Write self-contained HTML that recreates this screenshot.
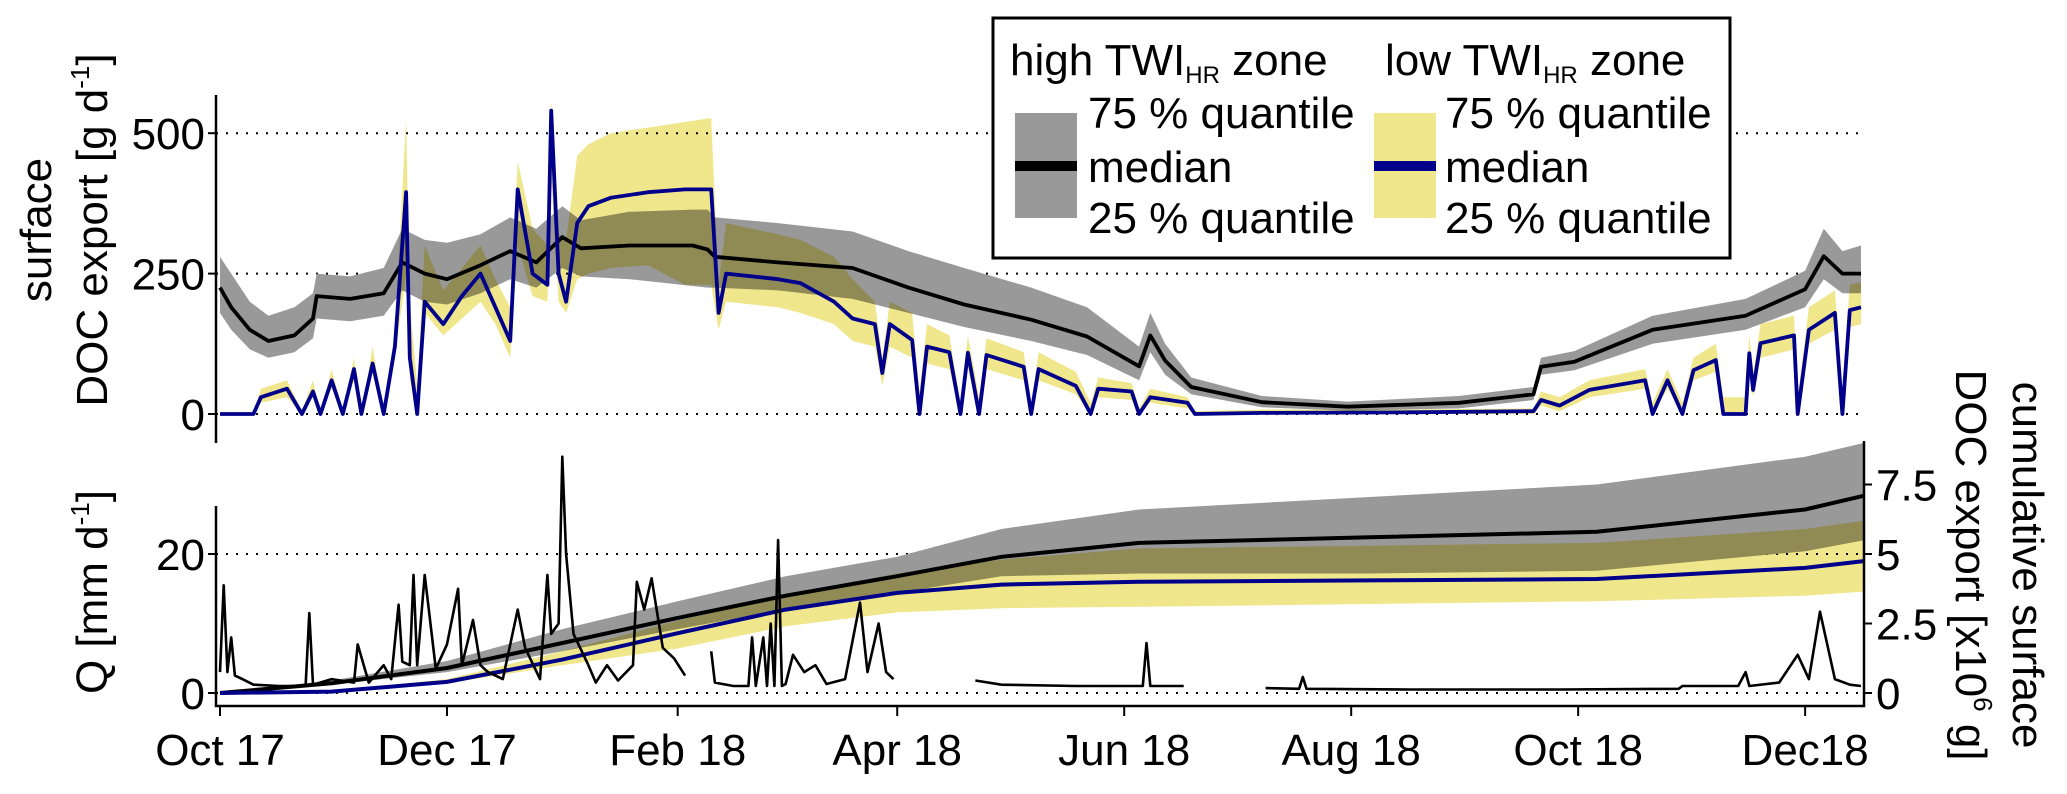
<!DOCTYPE html>
<html>
<head>
<meta charset="utf-8">
<style>
  html,body{margin:0;padding:0;background:#fff;}
  svg{display:block;}
  text{font-family:"Liberation Sans",Arial,sans-serif;fill:#000;}
</style>
</head>
<body>
<svg id="chart" width="2067" height="794" viewBox="0 0 2067 794" xmlns="http://www.w3.org/2000/svg">
  <g id="top-panel"></g>
  <g id="bottom-panel"></g>
  <g id="axes"></g>

  <!-- axis titles -->
  <text transform="translate(51,230) rotate(-90)" text-anchor="middle" font-size="44">surface</text>
  <text transform="translate(107,230) rotate(-90)" text-anchor="middle" font-size="44">DOC export [g d<tspan font-size="26" dy="-18">-1</tspan><tspan dy="18">]</tspan></text>
  <text transform="translate(107,592) rotate(-90)" text-anchor="middle" font-size="44">Q [mm d<tspan font-size="26" dy="-18">-1</tspan><tspan dy="18">]</tspan></text>
  <text transform="translate(2013,565) rotate(90)" text-anchor="middle" font-size="44">cumulative surface</text>
  <text transform="translate(1956,565) rotate(90)" text-anchor="middle" font-size="44">DOC export [x10<tspan font-size="26" dy="-18">6</tspan><tspan dy="18"> g]</tspan></text>

  <!-- legend -->
  <g>
    <rect x="993" y="18" width="737" height="240" fill="#fff" stroke="#000" stroke-width="3"/>
    <text x="1010" y="75" font-size="44">high TWI<tspan font-size="24" dy="8">HR</tspan><tspan dy="-8"> zone</tspan></text>
    <text x="1385" y="75" font-size="44">low TWI<tspan font-size="24" dy="8">HR</tspan><tspan dy="-8"> zone</tspan></text>
    <rect x="1015" y="113" width="62" height="105" fill="#999999"/>
    <rect x="1015" y="161" width="62" height="10" fill="#000"/>
    <rect x="1374" y="113" width="62" height="105" fill="#f0e68c"/>
    <rect x="1374" y="161" width="62" height="10" fill="#00008b"/>
    <text x="1088" y="128" font-size="44">75 % quantile</text>
    <text x="1088" y="182" font-size="44">median</text>
    <text x="1088" y="233" font-size="44">25 % quantile</text>
    <text x="1445" y="128" font-size="44">75 % quantile</text>
    <text x="1445" y="182" font-size="44">median</text>
    <text x="1445" y="233" font-size="44">25 % quantile</text>
  </g>
</svg>
<script>
// ---------- top panel: daily surface DOC export [g/d] ----------
const highDays = [0,3,8,13,20,25,26,35,44,49,55,61,70,78,85,92,97,110,127,131,133,150,170,185,200,218,233,247,250,254,261,280,303,333,353,355,364,385,410,426,431,436,441];
const highMed  = [225,190,150,130,140,170,210,205,215,270,250,240,265,290,270,315,295,300,300,293,280,270,260,225,195,168,138,85,140,95,48,21,13,20,35,84,93,150,175,222,281,250,250];
const highQ25  = [180,150,115,100,110,135,170,165,175,220,200,195,215,240,225,260,245,240,228,225,225,220,205,180,155,130,105,60,110,70,35,12,6,10,25,70,78,125,150,190,240,215,215];
const highQ75  = [280,250,200,175,190,215,250,245,260,330,310,305,320,350,330,370,345,360,364,364,350,340,325,290,260,225,190,120,180,125,65,32,22,32,48,100,112,175,205,255,330,290,300];

const lowDays = [0,9,11,18,22,25,27,30,33,36,38,41,44,47,50,51,53,55,60,65,70,74,78,80,84,88,89,91,93,96,99,105,115,125,132,134,136,150,156,165,170,176,178,180,186,188,190,196,199,201,204,206,216,218,220,230,234,236,245,247,250,260,262,280,320,353,355,360,368,383,385,389,393,396,402,404,410,411,412,414,423,424,427,434,436,438,441];
const lowMed = [0,0,30,45,0,40,0,60,0,80,0,90,0,120,395,100,0,200,160,210,250,190,130,400,250,230,540,250,200,340,370,385,395,400,400,180,250,240,233,200,170,160,73,160,132,0,120,110,0,109,0,105,84,0,80,50,0,45,40,0,30,20,0,2,3,5,25,15,43,60,0,60,0,78,96,0,0,108,43,126,140,0,150,180,0,185,190];
const lowQ25 = [0,0,20,30,0,30,0,45,0,60,0,75,0,100,250,60,0,180,140,170,200,160,100,300,210,200,420,200,180,240,250,260,265,230,230,150,200,190,180,160,130,120,50,120,100,0,90,80,0,80,0,80,60,0,60,35,0,30,25,0,20,10,0,0,0,0,15,5,30,45,0,45,0,60,75,0,0,85,30,100,115,0,125,150,0,155,160];
const lowQ75 = [0,0,45,60,5,60,0,80,5,100,0,120,0,150,525,200,50,300,220,260,300,240,190,450,330,300,560,320,310,460,480,500,510,520,527,230,340,320,310,280,240,200,100,200,180,40,160,140,20,140,30,135,110,20,110,75,20,65,55,10,45,30,5,8,8,10,40,30,60,80,20,80,20,100,125,30,30,140,70,160,175,30,190,220,40,230,235];

// ---------- bottom panel: discharge Q [mm/d] (null = gap) ----------
const qDays = [0,1,2,3,4,6,9,16,23,24,25,30,36,37,40,44,46,48,49,51,52,53,55,58,61,64,65,68,70,72,76,80,82,86,88,89,91,92,93,95,99,101,104,107,111,112,114,116,119,122,125,126,131,132,133,138,142,143,144,146,147,148,149,150,151,152,154,157,160,163,168,172,174,177,179,181,182,202,203,210,230,248,249,250,259,260,280,281,290,291,292,320,360,392,393,408,410,411,419,424,427,430,434,438,441];
const qVals = [3,15.5,3,8,2.5,2,1.2,1,1,11.5,1.2,2,1.5,7,1.5,4,2,12.7,4.5,4,17,4,17,3.5,7,15,4,10.5,4,3,2,12,6.5,2,17,8.5,10,34,20,8.5,4,1.5,4,1.8,4,16,12,16.5,6.5,5,2.5,null,null,6,1.5,1,1,8,1,8,1,10,1,22,1,1.3,5.5,3,4,1.3,2,13,3,10,3,2,null,null,1.8,1.2,1,1,7.2,1,1,null,null,0.7,0.6,2.3,0.6,0.5,0.5,0.6,1,1,3,1,1.5,5.5,2,11.7,2,1.2,1];

// ---------- bottom panel: cumulative surface DOC export [x10^6 g] ----------
const cumDays = [0,30,61,92,123,152,182,210,247,309,370,426,442];
const cumHighMed = [0,0.35,0.9,1.8,2.7,3.5,4.2,4.9,5.4,5.6,5.8,6.6,7.1];
const cumHighQ25 = [0,0.3,0.75,1.5,2.3,3.0,3.6,4.2,4.3,4.3,4.4,5.1,5.5];
const cumHighQ75 = [0,0.45,1.15,2.3,3.3,4.2,4.9,5.9,6.6,7.05,7.5,8.5,9.0];
const cumLowMed  = [0,0.05,0.4,1.2,2.15,3.0,3.6,3.9,4.0,4.05,4.1,4.5,4.75];
const cumLowQ25  = [0,0.05,0.35,1.0,1.6,2.4,2.9,3.05,3.1,3.2,3.3,3.5,3.65];
const cumLowQ75  = [0,0.08,0.5,1.5,2.6,3.5,4.3,4.8,5.2,5.3,5.4,5.9,6.2];

// ---------- axis tick labels ----------
const xTickDays = [0,61,123,182,243,304,365,426];
const xTickLabels = ["Oct 17","Dec 17","Feb 18","Apr 18","Jun 18","Aug 18","Oct 18","Dec18"];
const topTicks = [0,250,500];
const qTicks = [0,20];
const cumTicks = [0,2.5,5,7.5];
const cumTickLabels = ["0","2.5","5","7.5"];

// ---------- scales ----------
const X0 = 220, PX_PER_DAY = 3.721;
function xS(d){ return X0 + d*PX_PER_DAY; }
function yTop(v){ return 414 - v*0.5616; }
function yQ(v){ return 693 - v*6.95; }
function yCum(v){ return 693 - v*27.8; }

const NS = "http://www.w3.org/2000/svg";
function mk(tag, attrs, parent){
  const el = document.createElementNS(NS, tag);
  for (const k in attrs) el.setAttribute(k, attrs[k]);
  parent.appendChild(el);
  return el;
}
function bandPath(days, lo, hi, ys){
  let d = "";
  for (let i=0;i<days.length;i++) d += (i?"L":"M") + xS(days[i]).toFixed(1) + "," + ys(hi[i]).toFixed(1);
  for (let i=days.length-1;i>=0;i--) d += "L" + xS(days[i]).toFixed(1) + "," + ys(lo[i]).toFixed(1);
  return d + "Z";
}
function linePath(days, vals, ys){
  let d = "", pen = false;
  for (let i=0;i<days.length;i++){
    if (vals[i]===null){ pen=false; continue; }
    d += (pen?"L":"M") + xS(days[i]).toFixed(1) + "," + ys(vals[i]).toFixed(1);
    pen = true;
  }
  return d;
}

const topG = document.getElementById("top-panel");
const botG = document.getElementById("bottom-panel");
const axG = document.getElementById("axes");

// gridlines
topTicks.forEach(function(t){
  const g = mk("line",{x1:216,x2:1864,y1:yTop(t),y2:yTop(t),stroke:"#000","stroke-width":2,"stroke-dasharray":"2 8"},topG);
  
  
});
qTicks.forEach(function(t){
  const g = mk("line",{x1:216,x2:1864,y1:yQ(t),y2:yQ(t),stroke:"#000","stroke-width":2,"stroke-dasharray":"2 8"},botG);
  
  
});

// top panel bands and medians
let e;
e = mk("path",{d:bandPath(highDays,highQ25,highQ75,yTop),fill:"#999999"},topG);


e = mk("path",{d:bandPath(lowDays,lowQ25,lowQ75,yTop),fill:"#f0e68c",style:"mix-blend-mode:multiply"},topG);


e = mk("path",{d:linePath(highDays,highMed,yTop),fill:"none",stroke:"#000","stroke-width":3.8,"stroke-linejoin":"round"},topG);


e = mk("path",{d:linePath(lowDays,lowMed,yTop),fill:"none",stroke:"#00008b","stroke-width":3.8,"stroke-linejoin":"round"},topG);



// bottom panel cumulative bands
e = mk("path",{d:bandPath(cumDays,cumHighQ25,cumHighQ75,yCum),fill:"#999999"},botG);


e = mk("path",{d:bandPath(cumDays,cumLowQ25,cumLowQ75,yCum),fill:"#f0e68c",style:"mix-blend-mode:multiply"},botG);


e = mk("path",{d:linePath(cumDays,cumHighMed,yCum),fill:"none",stroke:"#000","stroke-width":4},botG);


e = mk("path",{d:linePath(cumDays,cumLowMed,yCum),fill:"none",stroke:"#00008b","stroke-width":4},botG);


e = mk("path",{d:linePath(qDays,qVals,yQ),fill:"none",stroke:"#000","stroke-width":2.6,"stroke-linejoin":"round"},botG);



// axes lines
e = mk("line",{x1:216,x2:216,y1:95,y2:443,stroke:"#000","stroke-width":2.5},axG);


e = mk("path",{d:"M216,506 L216,706 L1864,706 L1864,441",fill:"none",stroke:"#000","stroke-width":2.5},axG);



// top y ticks
topTicks.forEach(function(t){
  const tk = mk("line",{x1:208,x2:216,y1:yTop(t),y2:yTop(t),stroke:"#000","stroke-width":2},axG);
  
  
  const lb = mk("text",{x:205,y:yTop(t)+16,"text-anchor":"end","font-size":44},axG);
  lb.textContent = String(t);
  
  
});
// Q ticks
qTicks.forEach(function(t){
  const tk = mk("line",{x1:208,x2:216,y1:yQ(t),y2:yQ(t),stroke:"#000","stroke-width":2},axG);
  
  
  const lb = mk("text",{x:205,y:yQ(t)+16,"text-anchor":"end","font-size":44},axG);
  lb.textContent = String(t);
  
  
});
// cumulative ticks (right)
cumTicks.forEach(function(t,i){
  const tk = mk("line",{x1:1864,x2:1872,y1:yCum(t),y2:yCum(t),stroke:"#000","stroke-width":2},axG);
  
  
  const lb = mk("text",{x:1876,y:yCum(t)+16,"text-anchor":"start","font-size":44},axG);
  lb.textContent = cumTickLabels[i];
  
  
});
// x ticks
xTickDays.forEach(function(d,i){
  const tk = mk("line",{x1:xS(d),x2:xS(d),y1:706,y2:716,stroke:"#000","stroke-width":2},axG);
  
  
  const lb = mk("text",{x:xS(d),y:765,"text-anchor":"middle","font-size":44},axG);
  lb.textContent = xTickLabels[i];
  
  
});
</script>
</body>
</html>
